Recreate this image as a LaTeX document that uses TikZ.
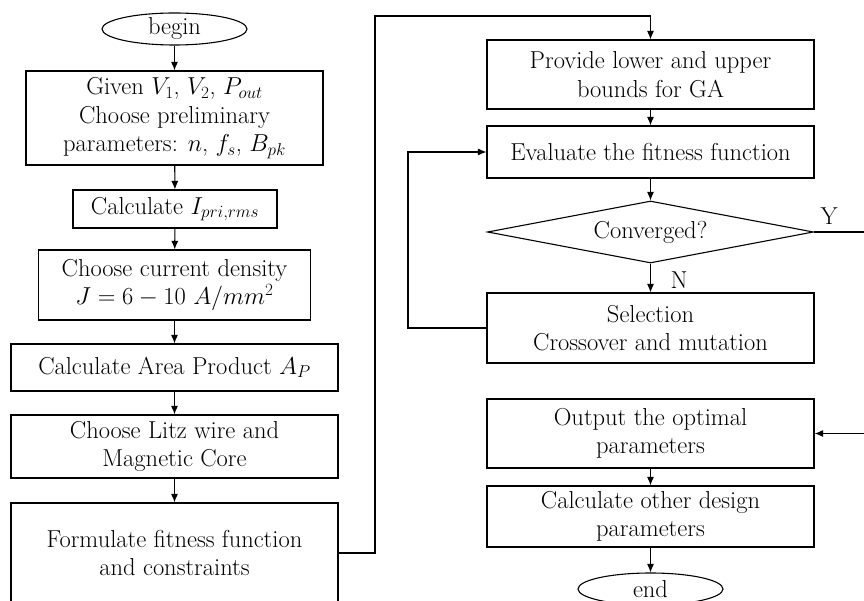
\RequirePackage{fix-cm}
\documentclass[tikz,border=0pt]{standalone}
\usetikzlibrary{shapes.geometric,arrows.meta}
\begin{document}
\begin{tikzpicture}[x=1pt,y=-1pt,
  every node/.style={font=\fontsize{24.5}{28.5}\selectfont},
  box/.style={draw,line width=1.1pt,rectangle,align=center,inner sep=0pt},
  term/.style={draw,line width=1.1pt,ellipse,inner sep=0pt,minimum width=145pt,minimum height=32pt},
  cond/.style={draw,line width=1.1pt,diamond,aspect=5,inner sep=0pt,minimum width=326pt,minimum height=62pt},
  link/.style={line width=1.1pt,-{Latex[length=8.5pt,width=7pt]}},
  wire/.style={line width=1.1pt}]
\useasboundingbox (0,0) rectangle (864,601);
\clip (0,0) rectangle (864,601);
% left column
\node[term] (begin) at (174.5,29) {begin};
\node[box,minimum width=297pt,minimum height=94pt] (b1) at (174.5,118)
  {Given $V_1$, $V_2$, $P_{out}$\\Choose preliminary\\parameters: $n$, $f_s$, $B_{pk}$};
\node[box,minimum width=204pt,minimum height=38pt] (b2) at (175,209) {Calculate $I_{pri,rms}$};
\node[box,minimum width=272pt,minimum height=70pt] (b3) at (174.5,285)
  {Choose current density\\$J=6-10\ A/mm^2$};
\node[box,minimum width=327pt,minimum height=47pt] (b4) at (174.5,367.5) {Calculate Area Product $A_P$};
\node[box,minimum width=327pt,minimum height=63pt] (b5) at (174.5,446.5) {Choose Litz wire and\\Magnetic Core};
\node[box,minimum width=327pt,minimum height=100pt] (b6) at (174.5,553) {Formulate fitness function\\and constraints};
% right column
\node[box,minimum width=327pt,minimum height=69pt] (p1) at (650.5,74.5) {Provide lower and upper\\bounds for GA};
\node[box,minimum width=327pt,minimum height=52pt] (p2) at (650.5,152) {Evaluate the fitness function};
\node[cond] (dia) at (650.5,232) {Converged?};
\node[box,minimum width=327pt,minimum height=70pt] (p3) at (650.5,328) {Selection\\Crossover and mutation};
\node[box,minimum width=327pt,minimum height=69pt] (p4) at (650.5,433.5) {Output the optimal\\parameters};
\node[box,minimum width=327pt,minimum height=61pt] (p5) at (650.5,516.5) {Calculate other design\\parameters};
\node[term] (end) at (650.5,589) {end};
% labels
\node (ylab) at (829,216) {Y};
\node (nlab) at (679,280) {N};
% coordinates
\coordinate (c1) at (375,553);
\coordinate (c2) at (375,16);
\coordinate (c3) at (650.5,16);
\coordinate (l1) at (408,328);
\coordinate (l2) at (408,152);
\coordinate (yout) at (866,232);
\coordinate (yin) at (866,433.5);
% connectors
\draw[link] (begin) -- (b1);
\draw[link] (b1) -- (b2);
\draw[link] (b2) -- (b3);
\draw[link] (b3) -- (b4);
\draw[link] (b4) -- (b5);
\draw[link] (b5) -- (b6);
\draw[link] (b6.east) -- (c1) -- (c2) -- (c3) -- (p1.north);
\draw[link] (p1) -- (p2);
\draw[link] (p2) -- (dia.north);
\draw[link] (dia.south) -- (p3);
\draw[link] (p3.west) -- (l1) -- (l2) -- (p2.west);
\draw[wire] (dia.east) -- (yout);
\draw[link] (yin) -- (p4.east);
\draw[link] (p4) -- (p5);
\draw[link] (p5) -- (end);
\end{tikzpicture}
\end{document}
